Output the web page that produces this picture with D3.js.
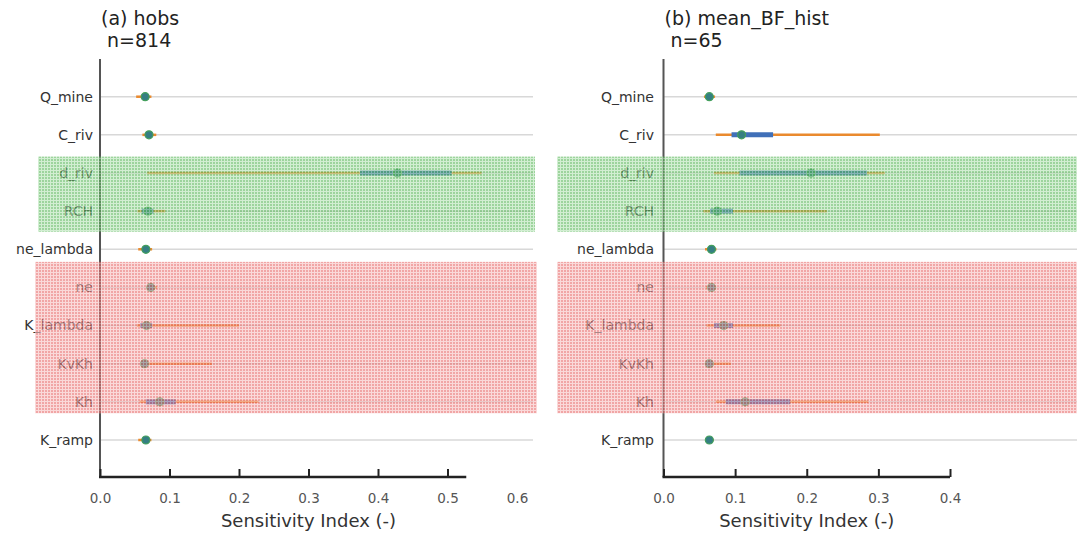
<!DOCTYPE html>
<html>
<head>
<meta charset="utf-8">
<script src="https://cdnjs.cloudflare.com/ajax/libs/d3/7.8.5/d3.min.js"></script>
<style>
  body { margin: 0; background: #fff; }
  svg { font-family: "DejaVu Sans", sans-serif; }
</style>
</head>
<body>
<svg id="chart" width="1077" height="534"></svg>
<script>
// parameters, top to bottom
const params = ["Q_mine", "C_riv", "d_riv", "RCH", "ne_lambda", "ne", "K_lambda", "KvKh", "Kh", "K_ramp"];

// panel (a) hobs : [low, high] of wide range, [low, high] of inner range, point
const hobsOuter = [[0.052, 0.074], [0.061, 0.081], [0.068, 0.549], [0.054, 0.094], [0.055, 0.075],
                   [0.067, 0.082], [0.053, 0.200], [0.058, 0.161], [0.057, 0.228], [0.055, 0.074]];
const hobsInner = [[0.060, 0.070], [0.066, 0.075], [0.374, 0.506], [0.060, 0.077], [0.061, 0.071],
                   [0.070, 0.077], [0.058, 0.075], [0.059, 0.069], [0.066, 0.109], [0.061, 0.071]];
const hobsPoint = [0.065, 0.0705, 0.428, 0.069, 0.066, 0.073, 0.067, 0.064, 0.086, 0.066];

// panel (b) mean_BF_hist
const bfOuter = [[0.0565, 0.072], [0.073, 0.302], [0.0705, 0.309], [0.0556, 0.228], [0.058, 0.074],
                 [0.059, 0.073], [0.060, 0.163], [0.059, 0.094], [0.073, 0.286], [0.059, 0.070]];
const bfInner = [[0.060, 0.068], [0.095, 0.153], [0.106, 0.284], [0.065, 0.097], [0.063, 0.071],
                 [0.063, 0.070], [0.0705, 0.097], [0.061, 0.067], [0.087, 0.177], [0.061, 0.067]];
const bfPoint = [0.064, 0.109, 0.206, 0.075, 0.067, 0.067, 0.084, 0.064, 0.114, 0.064];

const hobsTicks = [0, 0.1, 0.2, 0.3, 0.4, 0.5, 0.6];
const bfTicks = [0, 0.1, 0.2, 0.3, 0.4];

// shaded groups, in row units (0 = first row)
const greenRows = [1.57, 3.54];
const redRows = [4.33, 8.30];

const svg = d3.select("#chart");

// hatched fills
const defs = svg.append("defs");
function hatch(id, color, light) {
  const p = defs.append("pattern")
    .attr("id", id)
    .attr("width", 3).attr("height", 3)
    .attr("patternUnits", "userSpaceOnUse");
  p.append("rect").attr("width", 3).attr("height", 3).attr("fill", color);
  p.append("rect").attr("x", 2).attr("width", 1).attr("height", 3).attr("fill", light);
  p.append("rect").attr("y", 2).attr("width", 3).attr("height", 1).attr("fill", light);
}
hatch("greenHatch", "#5cb85c", "#b4e2b4");
hatch("redHatch", "#e86b6b", "#f6c0c0");

const yRow = d3.scaleLinear().domain([0, params.length - 1]).range([96.7, 440]);
const yScale = d3.scalePoint().domain(params).range([96.7, 440]);

const panels = [
  {title: "(a) hobs", n: " n=814", outer: hobsOuter, inner: hobsInner, point: hobsPoint,
   domain: [0, 0.6], range: [100, 517], ticks: hobsTicks, gridEnd: 533, spineEnd: 0.527,
   bandX: [[38, 535], [35, 537]], labelRight: 93},
  {title: "(b) mean_BF_hist", n: " n=65", outer: bfOuter, inner: bfInner, point: bfPoint,
   domain: [0, 0.4], range: [663.5, 950], ticks: bfTicks, gridEnd: 1077, spineEnd: 0.4,
   bandX: [[557, 1077], [557, 1077]], labelRight: 654}
];

panels.forEach(cfg => {
  const g = svg.append("g");
  const x = d3.scaleLinear().domain(cfg.domain).range(cfg.range);
  const x0 = x(0);

  // grid lines
  g.selectAll(".grid")
    .data(params)
  .join("line")
    .attr("x1", x0).attr("x2", cfg.gridEnd)
    .attr("y1", d => yScale(d)).attr("y2", d => yScale(d))
    .attr("stroke", "#d8d8d8").attr("stroke-width", 1.5);

  // y labels
  g.selectAll(".ylab")
    .data(params)
  .join("text")
    .attr("x", cfg.labelRight)
    .attr("y", d => yScale(d))
    .attr("dy", "0.35em")
    .attr("text-anchor", "end")
    .attr("font-size", 14)
    .attr("fill", "#333")
    .text(d => d);

  // wide range
  g.selectAll(".outer")
    .data(cfg.outer)
  .join("line")
    .attr("x1", d => x(d[0])).attr("x2", d => x(d[1]))
    .attr("y1", (d, i) => yScale(params[i])).attr("y2", (d, i) => yScale(params[i]))
    .attr("stroke", "#ea8a2e").attr("stroke-width", 2.5);

  // inner range
  g.selectAll(".inner")
    .data(cfg.inner)
  .join("line")
    .attr("x1", d => x(d[0])).attr("x2", d => x(d[1]))
    .attr("y1", (d, i) => yScale(params[i])).attr("y2", (d, i) => yScale(params[i]))
    .attr("stroke", "#4070b8").attr("stroke-width", 5);

  // point
  g.selectAll(".pt")
    .data(cfg.point)
  .join("circle")
    .attr("cx", d => x(d))
    .attr("cy", (d, i) => yScale(params[i]))
    .attr("r", 4)
    .attr("fill", "#357f82")
    .attr("stroke", "#44a05c").attr("stroke-width", 1.2);

  // spines
  g.append("line")
    .attr("x1", x0).attr("x2", x0).attr("y1", 59).attr("y2", 477)
    .attr("stroke", "#555").attr("stroke-width", 2);
  g.append("line")
    .attr("x1", x0 - 1).attr("x2", x(cfg.spineEnd)).attr("y1", 477).attr("y2", 477)
    .attr("stroke", "#222").attr("stroke-width", 2.5);

  // x axis
  const axis = g.append("g")
    .attr("transform", "translate(0,477)")
    .call(d3.axisBottom(x).tickValues(cfg.ticks).tickFormat(d3.format(".1f"))
      .tickSizeInner(-8).tickSizeOuter(0).tickPadding(16));
  axis.select(".domain").remove();
  axis.selectAll(".tick line").attr("stroke", "#222").attr("stroke-width", 2);
  axis.selectAll(".tick text")
    .attr("font-size", 13.5)
    .attr("fill", "#555")
    .attr("font-family", "DejaVu Sans, sans-serif");
  // last tick on panel (a) sits beyond the spine
  axis.selectAll(".tick").filter(d => d > cfg.spineEnd + 1e-9).select("line").remove();

  g.append("text")
    .attr("x", x((cfg.domain[0] + cfg.domain[1]) / 2))
    .attr("y", 527)
    .attr("text-anchor", "middle")
    .attr("font-size", 18)
    .attr("fill", "#333")
    .text("Sensitivity Index (-)");

  // title
  g.append("text")
    .attr("x", x0 + 1).attr("y", 25)
    .attr("font-size", 19).attr("fill", "#222")
    .text(cfg.title);
  g.append("text")
    .attr("x", x0 + 1).attr("y", 47)
    .attr("font-size", 19).attr("fill", "#222")
    .attr("xml:space", "preserve")
    .style("white-space", "pre")
    .text(cfg.n);

  // shaded groups on top
  g.append("rect")
    .attr("x", cfg.bandX[0][0]).attr("width", cfg.bandX[0][1] - cfg.bandX[0][0])
    .attr("y", yRow(greenRows[0])).attr("height", yRow(greenRows[1]) - yRow(greenRows[0]))
    .attr("fill", "url(#greenHatch)").attr("opacity", 0.6);
  g.append("rect")
    .attr("x", cfg.bandX[1][0]).attr("width", cfg.bandX[1][1] - cfg.bandX[1][0])
    .attr("y", yRow(redRows[0])).attr("height", yRow(redRows[1]) - yRow(redRows[0]))
    .attr("fill", "url(#redHatch)").attr("opacity", 0.6);
});
</script>
</body>
</html>
